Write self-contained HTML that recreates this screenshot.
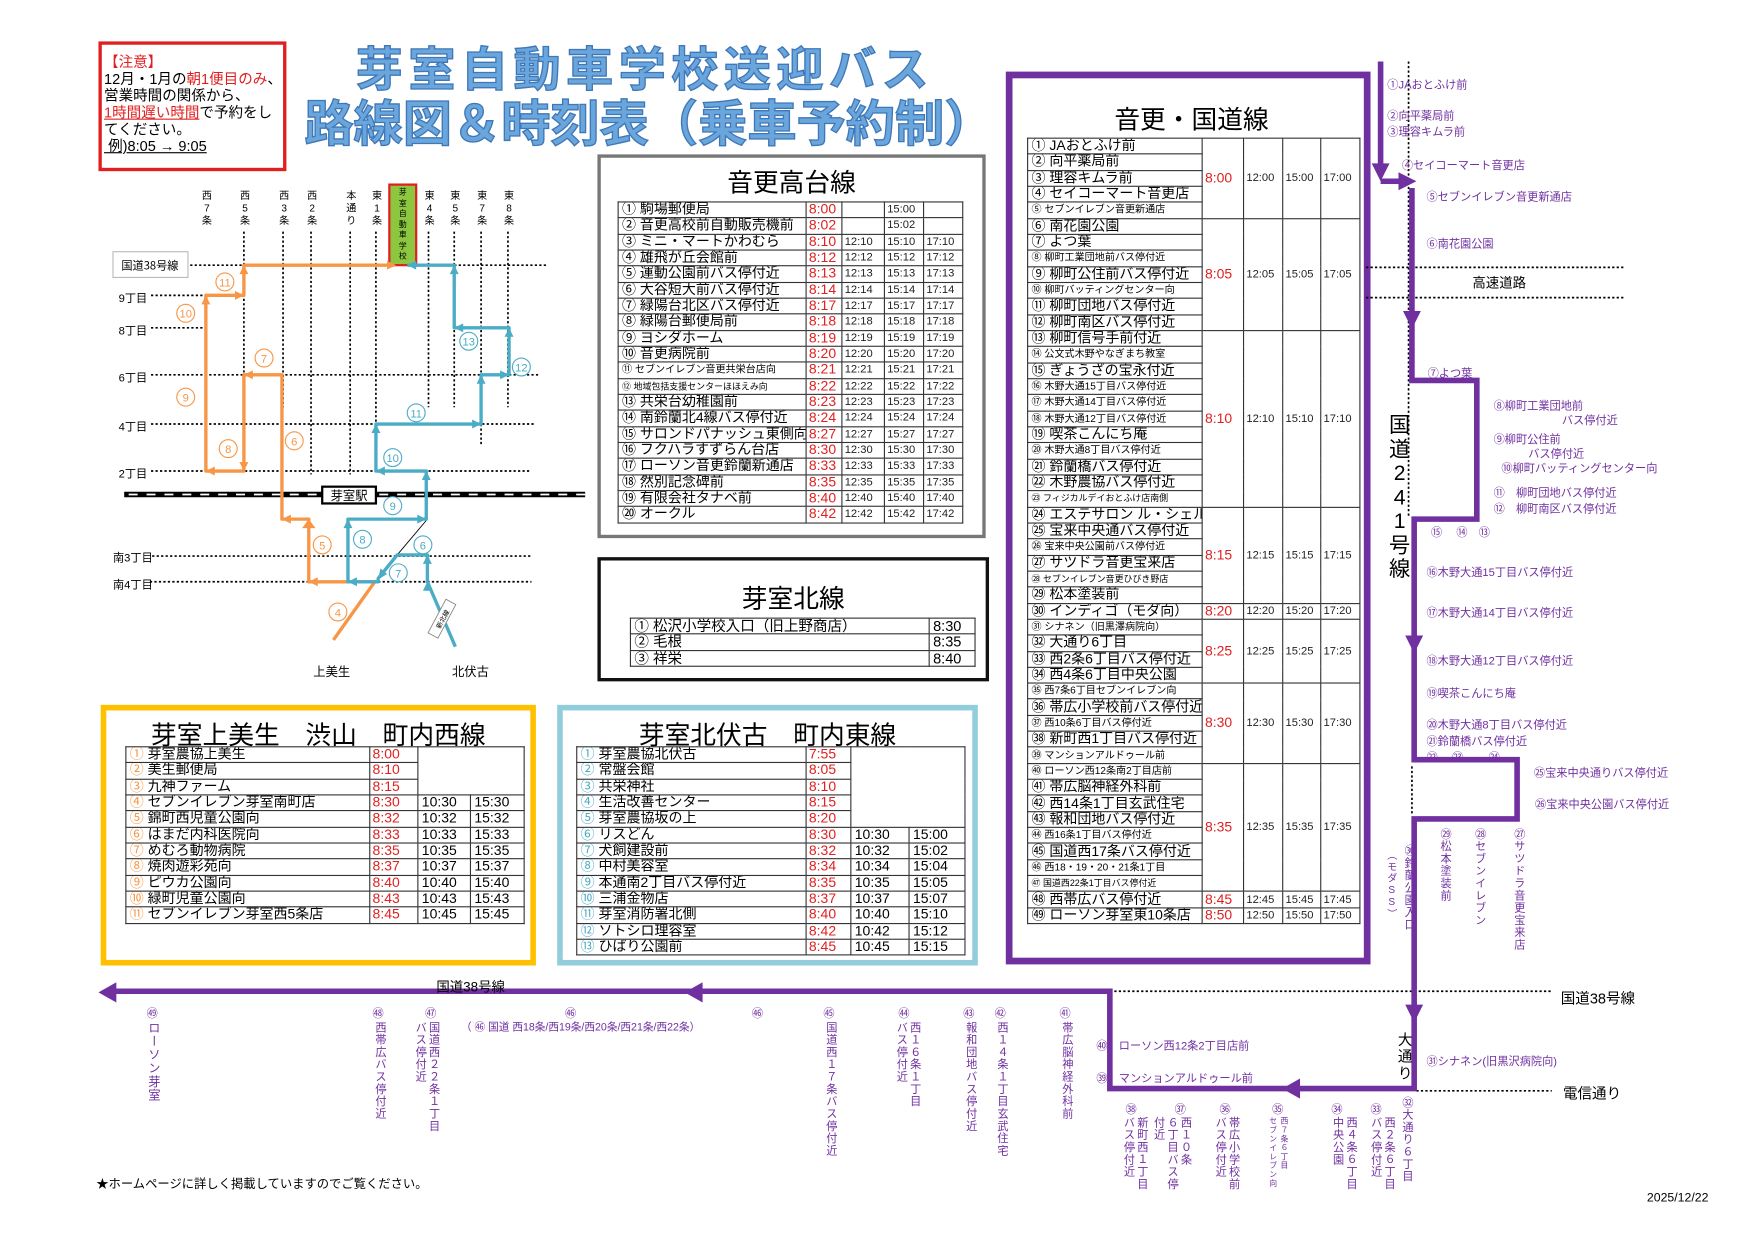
<!DOCTYPE html>
<html><head><meta charset="utf-8">
<style>
html,body{margin:0;padding:0;background:#fff;width:1754px;height:1240px;overflow:hidden}
#w{position:absolute;left:0;top:0;width:1560px;height:1103px;transform:scale(1.1188);transform-origin:0 0;font-family:"Liberation Sans","Noto Sans CJK JP",sans-serif;color:#000}
.a{position:absolute;white-space:nowrap}
table{border-collapse:collapse;table-layout:fixed;position:absolute}
td{border:1px solid #333;padding:0 0 0 3px;white-space:nowrap;overflow:hidden;line-height:13px;font-size:12.5px;height:13.33px}
td.t{color:#e02020;font-size:12.5px;padding:0 0 0 2px}
td.g{font-size:10px;padding:0 0 0 2px;color:#222}
.s{font-size:9px}
.p{color:#7030a0;font-size:10px}
.v{position:absolute;writing-mode:vertical-rl;text-orientation:upright;color:#7030a0;font-size:10px;line-height:12px;letter-spacing:1px}
.box{position:absolute;box-sizing:border-box}
.ttl{position:absolute;font-size:23px;font-weight:normal;text-align:center}
.or{color:#f79646}.bl{color:#4bacc6}
</style></head><body><div id="w">

<!-- notice -->
<div class="box" style="left:88px;top:37px;width:168px;height:116px;border:3px solid #e02020"></div>
<div class="a" style="left:93px;top:48px;font-size:13px;line-height:15px">
<span style="color:#e02020">【注意】</span><br>
12月・1月の<span style="color:#e02020">朝1便目のみ</span>、<br>
営業時間の関係から、<br>
<span style="color:#e02020;text-decoration:underline">1時間遅い時間</span>で予約をし<br>
てください。<br>
<span style="text-decoration:underline">&nbsp;例)8:05 → 9:05</span></div>

<!-- title -->
<div class="a" style="left:318px;top:38px;font-size:42px;font-weight:bold;letter-spacing:5px;color:#6aa6dc;-webkit-text-stroke:1.2px #3f78b8;line-height:50px">芽室自動車学校送迎バス</div>
<div class="a" style="left:272px;top:86px;font-size:44px;font-weight:bold;letter-spacing:0px;color:#6aa6dc;-webkit-text-stroke:1.2px #3f78b8;line-height:52px">路線図＆時刻表（乗車予約制）</div>

<!-- 音更高台線 -->
<div class="box" style="left:534px;top:138px;width:347px;height:343px;border:3px solid #777"></div>
<div class="ttl" style="left:534px;top:144px;width:347px">音更高台線</div>
<table style="left:552px;top:180px;width:308px">
<colgroup><col style="width:168px"><col style="width:32px"><col style="width:38px"><col style="width:35px"><col style="width:35px"></colgroup>
<tr><td>① 駒場郵便局</td><td class="t">8:00</td><td class="g"></td><td class="g">15:00</td><td class="g"></td></tr>
<tr><td>② 音更高校前自動販売機前</td><td class="t">8:02</td><td class="g"></td><td class="g">15:02</td><td class="g"></td></tr>
<tr><td>③ ミニ・マートかわむら</td><td class="t">8:10</td><td class="g">12:10</td><td class="g">15:10</td><td class="g">17:10</td></tr>
<tr><td>④ 雄飛が丘会館前</td><td class="t">8:12</td><td class="g">12:12</td><td class="g">15:12</td><td class="g">17:12</td></tr>
<tr><td>⑤ 運動公園前バス停付近</td><td class="t">8:13</td><td class="g">12:13</td><td class="g">15:13</td><td class="g">17:13</td></tr>
<tr><td>⑥ 大谷短大前バス停付近</td><td class="t">8:14</td><td class="g">12:14</td><td class="g">15:14</td><td class="g">17:14</td></tr>
<tr><td>⑦ 緑陽台北区バス停付近</td><td class="t">8:17</td><td class="g">12:17</td><td class="g">15:17</td><td class="g">17:17</td></tr>
<tr><td>⑧ 緑陽台郵便局前</td><td class="t">8:18</td><td class="g">12:18</td><td class="g">15:18</td><td class="g">17:18</td></tr>
<tr><td>⑨ ヨシダホーム</td><td class="t">8:19</td><td class="g">12:19</td><td class="g">15:19</td><td class="g">17:19</td></tr>
<tr><td>⑩ 音更病院前</td><td class="t">8:20</td><td class="g">12:20</td><td class="g">15:20</td><td class="g">17:20</td></tr>
<tr><td class="s">⑪ セブンイレブン音更共栄台店向</td><td class="t">8:21</td><td class="g">12:21</td><td class="g">15:21</td><td class="g">17:21</td></tr>
<tr><td style="font-size:8px">⑫ 地域包括支援センターほほえみ向</td><td class="t">8:22</td><td class="g">12:22</td><td class="g">15:22</td><td class="g">17:22</td></tr>
<tr><td>⑬ 共栄台幼稚園前</td><td class="t">8:23</td><td class="g">12:23</td><td class="g">15:23</td><td class="g">17:23</td></tr>
<tr><td>⑭ 南鈴蘭北4線バス停付近</td><td class="t">8:24</td><td class="g">12:24</td><td class="g">15:24</td><td class="g">17:24</td></tr>
<tr><td>⑮ サロンドパナッシュ東側向</td><td class="t">8:27</td><td class="g">12:27</td><td class="g">15:27</td><td class="g">17:27</td></tr>
<tr><td>⑯ フクハラすずらん台店</td><td class="t">8:30</td><td class="g">12:30</td><td class="g">15:30</td><td class="g">17:30</td></tr>
<tr><td>⑰ ローソン音更鈴蘭新通店</td><td class="t">8:33</td><td class="g">12:33</td><td class="g">15:33</td><td class="g">17:33</td></tr>
<tr><td>⑱ 然別記念碑前</td><td class="t">8:35</td><td class="g">12:35</td><td class="g">15:35</td><td class="g">17:35</td></tr>
<tr><td>⑲ 有限会社タナベ前</td><td class="t">8:40</td><td class="g">12:40</td><td class="g">15:40</td><td class="g">17:40</td></tr>
<tr><td>⑳ オークル</td><td class="t">8:42</td><td class="g">12:42</td><td class="g">15:42</td><td class="g">17:42</td></tr>
</table>

<!-- 芽室北線 -->
<div class="box" style="left:534px;top:498px;width:350px;height:111px;border:3px solid #111"></div>
<div class="ttl" style="left:534px;top:516px;width:350px">芽室北線</div>
<table style="left:563px;top:552px;width:308px">
<colgroup><col style="width:267px"><col style="width:41px"></colgroup>
<tr><td style="font-size:13px">① 松沢小学校入口（旧上野商店）</td><td style="font-size:13px">8:30</td></tr>
<tr><td style="font-size:13px">② 毛根</td><td style="font-size:13px">8:35</td></tr>
<tr><td style="font-size:13px">③ 祥栄</td><td style="font-size:13px">8:40</td></tr>
</table>

<!-- 音更・国道線 -->
<div class="box" style="left:899px;top:64px;width:326px;height:798px;border:6px solid #7030a0"></div>
<div class="ttl" style="left:905px;top:88px;width:320px">音更・国道線</div>
<table style="left:918px;top:123px;width:297px">
<colgroup><col style="width:156px"><col style="width:37px"><col style="width:35px"><col style="width:34px"><col style="width:35px"></colgroup>
<tr><td>① JAおとふけ前</td><td class="t" rowspan="5">8:00</td><td class="g" rowspan="5">12:00</td><td class="g" rowspan="5">15:00</td><td class="g" rowspan="5">17:00</td></tr>
<tr><td>② 向平薬局前</td></tr>
<tr><td>③ 理容キムラ前</td></tr>
<tr><td>④ セイコーマート音更店</td></tr>
<tr><td class="s">⑤ セブンイレブン音更新通店</td></tr>
<tr><td>⑥ 南花園公園</td><td class="t" rowspan="7">8:05</td><td class="g" rowspan="7">12:05</td><td class="g" rowspan="7">15:05</td><td class="g" rowspan="7">17:05</td></tr>
<tr><td>⑦ よつ葉</td></tr>
<tr><td class="s">⑧ 柳町工業団地前バス停付近</td></tr>
<tr><td>⑨ 柳町公住前バス停付近</td></tr>
<tr><td class="s">⑩ 柳町バッティングセンター向</td></tr>
<tr><td>⑪ 柳町団地バス停付近</td></tr>
<tr><td>⑫ 柳町南区バス停付近</td></tr>
<tr><td>⑬ 柳町信号手前付近</td><td class="t" rowspan="11">8:10</td><td class="g" rowspan="11">12:10</td><td class="g" rowspan="11">15:10</td><td class="g" rowspan="11">17:10</td></tr>
<tr><td class="s">⑭ 公文式木野やなぎまち教室</td></tr>
<tr><td>⑮ ぎょうざの宝永付近</td></tr>
<tr><td class="s">⑯ 木野大通15丁目バス停付近</td></tr>
<tr><td class="s">⑰ 木野大通14丁目バス停付近</td></tr>
<tr><td class="s">⑱ 木野大通12丁目バス停付近</td></tr>
<tr><td>⑲ 喫茶こんにち庵</td></tr>
<tr><td class="s">⑳ 木野大通8丁目バス停付近</td></tr>
<tr><td>㉑ 鈴蘭橋バス停付近</td></tr>
<tr><td>㉒ 木野農協バス停付近</td></tr>
<tr><td style="font-size:8px">㉓ フィジカルデイおとふけ店南側</td></tr>
<tr><td>㉔ エステサロン ル・シェル</td><td class="t" rowspan="6">8:15</td><td class="g" rowspan="6">12:15</td><td class="g" rowspan="6">15:15</td><td class="g" rowspan="6">17:15</td></tr>
<tr><td>㉕ 宝来中央通バス停付近</td></tr>
<tr><td class="s">㉖ 宝来中央公園前バス停付近</td></tr>
<tr><td>㉗ サツドラ音更宝来店</td></tr>
<tr><td style="font-size:8px">㉘ セブンイレブン音更ひびき野店</td></tr>
<tr><td>㉙ 松本塗装前</td></tr>
<tr><td>㉚ インディゴ（モダ向）</td><td class="t">8:20</td><td class="g">12:20</td><td class="g">15:20</td><td class="g">17:20</td></tr>
<tr><td class="s">㉛ シナネン（旧黒澤病院向）</td><td class="t" rowspan="4">8:25</td><td class="g" rowspan="4">12:25</td><td class="g" rowspan="4">15:25</td><td class="g" rowspan="4">17:25</td></tr>
<tr><td>㉜ 大通り6丁目</td></tr>
<tr><td>㉝ 西2条6丁目バス停付近</td></tr>
<tr><td>㉞ 西4条6丁目中央公園</td></tr>
<tr><td class="s">㉟ 西7条6丁目セブンイレブン向</td><td class="t" rowspan="5">8:30</td><td class="g" rowspan="5">12:30</td><td class="g" rowspan="5">15:30</td><td class="g" rowspan="5">17:30</td></tr>
<tr><td>㊱ 帯広小学校前バス停付近</td></tr>
<tr><td class="s">㊲ 西10条6丁目バス停付近</td></tr>
<tr><td>㊳ 新町西1丁目バス停付近</td></tr>
<tr><td class="s">㊴ マンションアルドゥール前</td></tr>
<tr><td class="s">㊵ ローソン西12条南2丁目店前</td><td class="t" rowspan="8">8:35</td><td class="g" rowspan="8">12:35</td><td class="g" rowspan="8">15:35</td><td class="g" rowspan="8">17:35</td></tr>
<tr><td>㊶ 帯広脳神経外科前</td></tr>
<tr><td>㊷ 西14条1丁目玄武住宅</td></tr>
<tr><td>㊸ 報和団地バス停付近</td></tr>
<tr><td class="s">㊹ 西16条1丁目バス停付近</td></tr>
<tr><td>㊺ 国道西17条バス停付近</td></tr>
<tr><td class="s">㊻ 西18・19・20・21条1丁目</td></tr>
<tr><td style="font-size:8px">㊼ 国道西22条1丁目バス停付近</td></tr>
<tr><td>㊽ 西帯広バス停付近</td><td class="t">8:45</td><td class="g">12:45</td><td class="g">15:45</td><td class="g">17:45</td></tr>
<tr><td>㊾ ローソン芽室東10条店</td><td class="t">8:50</td><td class="g">12:50</td><td class="g">15:50</td><td class="g">17:50</td></tr>
</table>

<!-- 上美生 -->
<div class="box" style="left:90px;top:630px;width:389px;height:233px;border:5px solid #ffc000"></div>
<div class="ttl" style="left:90px;top:638px;width:389px">芽室上美生　渋山　町内西線</div>
<table style="left:112px;top:667px;width:356px">
<colgroup><col style="width:218px"><col style="width:43px"><col style="width:47px"><col style="width:48px"></colgroup>
<tr><td><span class="or">①</span> 芽室農協上美生</td><td class="t">8:00</td><td colspan="2" rowspan="3" style="border-bottom:1px solid #333"></td></tr>
<tr><td><span class="or">②</span> 美生郵便局</td><td class="t">8:10</td></tr>
<tr><td><span class="or">③</span> 九神ファーム</td><td class="t">8:15</td></tr>
<tr><td><span class="or">④</span> セブンイレブン芽室南町店</td><td class="t">8:30</td><td>10:30</td><td>15:30</td></tr>
<tr><td><span class="or">⑤</span> 錦町西児童公園向</td><td class="t">8:32</td><td>10:32</td><td>15:32</td></tr>
<tr><td><span class="or">⑥</span> はまだ内科医院向</td><td class="t">8:33</td><td>10:33</td><td>15:33</td></tr>
<tr><td><span class="or">⑦</span> めむろ動物病院</td><td class="t">8:35</td><td>10:35</td><td>15:35</td></tr>
<tr><td><span class="or">⑧</span> 焼肉遊彩苑向</td><td class="t">8:37</td><td>10:37</td><td>15:37</td></tr>
<tr><td><span class="or">⑨</span> ピウカ公園向</td><td class="t">8:40</td><td>10:40</td><td>15:40</td></tr>
<tr><td><span class="or">⑩</span> 緑町児童公園向</td><td class="t">8:43</td><td>10:43</td><td>15:43</td></tr>
<tr><td><span class="or">⑪</span> セブンイレブン芽室西5条店</td><td class="t">8:45</td><td>10:45</td><td>15:45</td></tr>
</table>

<!-- 北伏古 -->
<div class="box" style="left:498px;top:630px;width:376px;height:233px;border:5px solid #92cddc"></div>
<div class="ttl" style="left:498px;top:638px;width:376px">芽室北伏古　町内東線</div>
<table style="left:515px;top:667px;width:347px">
<colgroup><col style="width:205px"><col style="width:40px"><col style="width:52px"><col style="width:50px"></colgroup>
<tr><td><span class="bl">①</span> 芽室農協北伏古</td><td class="t">7:55</td><td colspan="2" rowspan="5" style="border-bottom:1px solid #333"></td></tr>
<tr><td><span class="bl">②</span> 常盤会館</td><td class="t">8:05</td></tr>
<tr><td><span class="bl">③</span> 共栄神社</td><td class="t">8:10</td></tr>
<tr><td><span class="bl">④</span> 生活改善センター</td><td class="t">8:15</td></tr>
<tr><td><span class="bl">⑤</span> 芽室農協坂の上</td><td class="t">8:20</td></tr>
<tr><td><span class="bl">⑥</span> リスどん</td><td class="t">8:30</td><td>10:30</td><td>15:00</td></tr>
<tr><td><span class="bl">⑦</span> 犬飼建設前</td><td class="t">8:32</td><td>10:32</td><td>15:02</td></tr>
<tr><td><span class="bl">⑧</span> 中村美容室</td><td class="t">8:34</td><td>10:34</td><td>15:04</td></tr>
<tr><td><span class="bl">⑨</span> 本通南2丁目バス停付近</td><td class="t">8:35</td><td>10:35</td><td>15:05</td></tr>
<tr><td><span class="bl">⑩</span> 三浦金物店</td><td class="t">8:37</td><td>10:37</td><td>15:07</td></tr>
<tr><td><span class="bl">⑪</span> 芽室消防署北側</td><td class="t">8:40</td><td>10:40</td><td>15:10</td></tr>
<tr><td><span class="bl">⑫</span> ソトシロ理容室</td><td class="t">8:42</td><td>10:42</td><td>15:12</td></tr>
<tr><td><span class="bl">⑬</span> ひばり公園前</td><td class="t">8:45</td><td>10:45</td><td>15:15</td></tr>
</table>

<!-- map + routes svg -->
<svg class="a" style="left:0;top:0" width="1560" height="1103" viewBox="0 0 1560 1103">
<g stroke="#000" stroke-width="1.5" stroke-dasharray="2,2" fill="none">
<line x1="218" y1="207" x2="218" y2="364"/><line x1="253" y1="207" x2="253" y2="364"/>
<line x1="278" y1="207" x2="278" y2="424"/><line x1="313" y1="207" x2="313" y2="424"/>
<line x1="336" y1="207" x2="336" y2="421"/><line x1="383" y1="207" x2="383" y2="364"/>
<line x1="406" y1="207" x2="406" y2="364"/><line x1="430" y1="207" x2="430" y2="397"/>
<line x1="454" y1="207" x2="454" y2="364"/>
<line x1="170" y1="237" x2="489" y2="237"/>
<line x1="135" y1="264" x2="181" y2="264"/><line x1="135" y1="293" x2="181" y2="293"/>
<line x1="135" y1="335" x2="483" y2="335"/><line x1="135" y1="379" x2="479" y2="379"/>
<line x1="135" y1="421" x2="473" y2="421"/><line x1="136" y1="497" x2="474" y2="497"/>
<line x1="134" y1="520" x2="475" y2="520"/>
<line x1="1221" y1="239" x2="1451" y2="239"/><line x1="1221" y1="266" x2="1451" y2="266"/>
<line x1="996" y1="886" x2="1387" y2="886"/><line x1="1266" y1="975" x2="1387" y2="975"/>
<line x1="1259" y1="55" x2="1259" y2="462"/><line x1="1262" y1="685" x2="1262" y2="727"/>
</g>
<line x1="382" y1="464" x2="355" y2="496" stroke="#000" stroke-width="0.8"/>
<line x1="111" y1="442" x2="523" y2="442" stroke="#000" stroke-width="5"/>
<line x1="115" y1="442" x2="523" y2="442" stroke="#fff" stroke-width="1.6" stroke-dasharray="8,8"/>
<rect x="288" y="435" width="48" height="15" fill="#fff" stroke="#000" stroke-width="2"/>
<text x="312" y="447" font-size="11" text-anchor="middle" font-family="Noto Sans CJK JP">芽室駅</text>
<rect x="101" y="225" width="67" height="23" fill="#fff" stroke="#bbb" stroke-width="1"/>
<text x="134" y="241" font-size="10" text-anchor="middle" font-family="Noto Sans CJK JP">国道38号線</text>
<rect x="348" y="165" width="24" height="72" fill="#8dc63f" stroke="#e02020" stroke-width="2"/>
<g stroke="#f79646" stroke-width="3" fill="none" stroke-linejoin="round">
<path d="M298,572 L335,520 H276 V464 H252 V335 H218 V421 H184 V264 H218 V237 H352"/>
</g>
<g fill="#f79646">
<polygon points="276,520 284,516 284,524"/><polygon points="276,464 270,472 282,472"/>
<polygon points="252,464 260,460 260,468"/><polygon points="218,335 226,331 226,339"/>
<polygon points="218,421 214,413 222,413"/><polygon points="184,421 192,417 192,425"/>
<polygon points="184,264 180,272 188,272"/><polygon points="218,264 210,260 210,268"/>
<polygon points="218,237 214,245 222,245"/><polygon points="354,237 346,233 346,241"/>
</g>
<g stroke="#4bacc6" stroke-width="3" fill="none" stroke-linejoin="round">
<path d="M407,578 L382,520 V496 H355 L338,517 V520 H311 V464 H381 V421 H336 V379 H430 V335 H455 V293 H406 V237 H364"/>
</g>
<g fill="#4bacc6">
<polygon points="382,496 378,504 386,504"/><polygon points="338,518 340,508 346,513"/>
<polygon points="311,520 319,516 319,524"/><polygon points="311,464 307,472 315,472"/>
<polygon points="381,464 373,460 373,468"/><polygon points="381,421 377,429 385,429"/>
<polygon points="336,421 344,417 344,425"/><polygon points="336,379 332,387 340,387"/>
<polygon points="430,379 422,375 422,383"/><polygon points="430,335 426,343 434,343"/>
<polygon points="455,335 447,331 447,339"/><polygon points="455,293 451,301 459,301"/>
<polygon points="406,293 414,289 414,297"/><polygon points="406,237 402,245 410,245"/>
<polygon points="364,237 372,233 372,241"/><polygon points="382,520 378,528 386,528"/>
</g>
<g transform="rotate(-62 395 553)"><rect x="378" y="548" width="34" height="10" fill="#fff" stroke="#888" stroke-width="0.8"/><text x="395" y="556" font-size="6" text-anchor="middle" font-family="Noto Sans CJK JP">新北線</text></g>
<g fill="#fff" stroke-width="1" font-family="Liberation Sans" font-size="10" text-anchor="middle">
<g stroke="#f79646"><circle cx="201" cy="252" r="8"/><circle cx="166" cy="280" r="8"/><circle cx="166" cy="355" r="8"/><circle cx="236" cy="320" r="8"/><circle cx="204" cy="401" r="8"/><circle cx="263" cy="394" r="8"/><circle cx="288" cy="487" r="8"/><circle cx="302" cy="547" r="8"/></g>
<g fill="#f79646"><text x="201" y="256">11</text><text x="166" y="284">10</text><text x="166" y="359">9</text><text x="236" y="324">7</text><text x="204" y="405">8</text><text x="263" y="398">6</text><text x="288" y="491">5</text><text x="302" y="551">4</text></g>
<g stroke="#4bacc6"><circle cx="419" cy="305" r="8"/><circle cx="466" cy="328" r="8"/><circle cx="372" cy="369" r="8"/><circle cx="351" cy="409" r="8"/><circle cx="351" cy="452" r="8"/><circle cx="324" cy="482" r="8"/><circle cx="378" cy="487" r="8"/><circle cx="356" cy="512" r="8"/></g>
<g fill="#4bacc6"><text x="419" y="309">13</text><text x="466" y="332">12</text><text x="372" y="373">11</text><text x="351" y="413">10</text><text x="351" y="456">9</text><text x="324" y="486">8</text><text x="378" y="491">6</text><text x="356" y="516">7</text></g>
</g>
<g stroke="#7030a0" stroke-width="5" fill="none">
<path d="M1234,55 V150"/><path d="M1234,162 H1252"/>
<path d="M1262,168 V340 H1320 V464 H1264 V679 H1356 V732 H1264 V973 H992 V886 H100"/>
</g>
<g fill="#7030a0">
<polygon points="1226,146 1242,146 1234,162"/><polygon points="1250,154 1250,170 1266,162"/>
<polygon points="1254,278 1270,278 1262,294"/><polygon points="1256,568 1272,568 1264,584"/>
<polygon points="1256,898 1272,898 1264,914"/><polygon points="1146,973 1162,964 1162,982"/>
<polygon points="612,887 628,878 628,896"/><polygon points="88,887 104,878 104,896"/>
</g>
</svg>

<div class="a" style="left:179px;top:170px;font-size:9px;line-height:11px;text-align:center;width:12px">西<br>7<br>条</div>
<div class="a" style="left:213px;top:170px;font-size:9px;line-height:11px;text-align:center;width:12px">西<br>5<br>条</div>
<div class="a" style="left:248px;top:170px;font-size:9px;line-height:11px;text-align:center;width:12px">西<br>3<br>条</div>
<div class="a" style="left:273px;top:170px;font-size:9px;line-height:11px;text-align:center;width:12px">西<br>2<br>条</div>
<div class="a" style="left:308px;top:170px;font-size:9px;line-height:11px;text-align:center;width:12px">本<br>通<br>り</div>
<div class="a" style="left:331px;top:170px;font-size:9px;line-height:11px;text-align:center;width:12px">東<br>1<br>条</div>
<div class="a" style="left:378px;top:170px;font-size:9px;line-height:11px;text-align:center;width:12px">東<br>4<br>条</div>
<div class="a" style="left:401px;top:170px;font-size:9px;line-height:11px;text-align:center;width:12px">東<br>5<br>条</div>
<div class="a" style="left:425px;top:170px;font-size:9px;line-height:11px;text-align:center;width:12px">東<br>7<br>条</div>
<div class="a" style="left:449px;top:170px;font-size:9px;line-height:11px;text-align:center;width:12px">東<br>8<br>条</div>
<div class="a" style="left:355px;top:168px;font-size:7px;line-height:9.5px;width:10px;text-align:center">芽<br>室<br>自<br>動<br>車<br>学<br>校</div>
<div class="a" style="left:106px;top:258px;font-size:10px">9丁目</div>
<div class="a" style="left:106px;top:287px;font-size:10px">8丁目</div>
<div class="a" style="left:106px;top:329px;font-size:10px">6丁目</div>
<div class="a" style="left:106px;top:373px;font-size:10px">4丁目</div>
<div class="a" style="left:106px;top:415px;font-size:10px">2丁目</div>
<div class="a" style="left:101px;top:490px;font-size:10px">南3丁目</div>
<div class="a" style="left:101px;top:514px;font-size:10px">南4丁目</div>
<div class="a" style="left:280px;top:592px;font-size:11px">上美生</div>
<div class="a" style="left:404px;top:592px;font-size:11px">北伏古</div>

<div class="a p" style="left:1240px;top:67px">①JAおとふけ前</div>
<div class="a p" style="left:1240px;top:95px">②向平薬局前</div>
<div class="a p" style="left:1240px;top:109px">③理容キムラ前</div>
<div class="a p" style="left:1253px;top:139px">④セイコーマート音更店</div>
<div class="a p" style="left:1275px;top:167px">⑤セブンイレブン音更新通店</div>
<div class="a p" style="left:1275px;top:209px">⑥南花園公園</div>
<div class="a" style="left:1316px;top:244px;font-size:12px">高速道路</div>
<div class="a p" style="left:1276px;top:325px">⑦よつ葉</div>
<div class="a p" style="left:1335px;top:354px">⑧柳町工業団地前</div>
<div class="a p" style="left:1396px;top:367px">バス停付近</div>
<div class="a p" style="left:1335px;top:384px">⑨柳町公住前</div>
<div class="a p" style="left:1366px;top:397px">バス停付近</div>
<div class="a p" style="left:1342px;top:410px">⑩柳町バッティングセンター向</div>
<div class="a p" style="left:1335px;top:432px">⑪　柳町団地バス停付近</div>
<div class="a p" style="left:1335px;top:446px">⑫　柳町南区バス停付近</div>
<div class="a p" style="left:1279px;top:467px">⑮　 ⑭　⑬</div>
<div class="a p" style="left:1275px;top:503px">⑯木野大通15丁目バス停付近</div>
<div class="a p" style="left:1275px;top:539px">⑰木野大通14丁目バス停付近</div>
<div class="a p" style="left:1275px;top:582px">⑱木野大通12丁目バス停付近</div>
<div class="a p" style="left:1275px;top:611px">⑲喫茶こんにち庵</div>
<div class="a p" style="left:1275px;top:639px">⑳木野大通8丁目バス停付近</div>
<div class="a p" style="left:1275px;top:654px">㉑鈴蘭橋バス停付近</div>
<div class="a p" style="left:1275px;top:668px">㉒　 ㉓　　 ㉔</div>
<div class="a p" style="left:1371px;top:682px">㉕宝来中央通りバス停付近</div>
<div class="a p" style="left:1372px;top:710px">㉖宝来中央公園バス停付近</div>
<div class="v" style="left:1250px;top:755px;width:14px">㉚鈴蘭公園入口</div>
<div class="v" style="left:1238px;top:760px;width:12px;font-size:9px">（モダSS）</div>
<div class="v" style="left:1284px;top:740px">㉙松本塗装前</div>
<div class="v" style="left:1315px;top:740px">㉘セブンイレブン</div>
<div class="v" style="left:1350px;top:740px">㉗サツドラ音更宝来店</div>
<div class="a" style="left:1240px;top:370px;font-size:19px;line-height:21.5px;width:22px;text-align:center">国<br>道<br>2<br>4<br>1<br>号<br>線</div>
<div class="a" style="left:1248px;top:922px;font-size:13px;line-height:15px;width:16px;text-align:center">大<br>通<br>り</div>
<div class="a p" style="left:1275px;top:940px">㉛シナネン(旧黒沢病院向)</div>
<div class="a" style="left:1395px;top:882px;font-size:13px">国道38号線</div>
<div class="a" style="left:1397px;top:967px;font-size:13px">電信通り</div>
<div class="a p" style="left:980px;top:926px">㊵　ローソン西12条2丁目店前</div>
<div class="a p" style="left:980px;top:955px">㊴　マンションアルドゥール前</div>
<div class="a" style="left:390px;top:873px;font-size:12px">国道38号線</div>

<div class="v" style="left:1250px;top:980px">㉜大通り６丁目</div>
<div class="v" style="left:1220px;top:998px;width:26px">西２条６丁目<br>バス停付近</div>
<div class="a p" style="left:1225px;top:983px">㉝</div>
<div class="a p" style="left:1190px;top:983px">㉞</div>
<div class="v" style="left:1186px;top:998px;width:26px">西４条６丁目<br>中央公園</div>
<div class="a p" style="left:1137px;top:983px">㉟</div>
<div class="v" style="left:1130px;top:998px;width:22px;font-size:7px;line-height:10px">西７条６丁目<br>セブンイレブン向</div>
<div class="a p" style="left:1090px;top:983px">㊱</div>
<div class="v" style="left:1081px;top:998px;width:26px">帯広小学校前<br>バス停付近</div>
<div class="a p" style="left:1050px;top:983px">㊲</div>
<div class="v" style="left:1026px;top:998px;width:38px">西１０条<br>６丁目バス停<br>付近</div>
<div class="a p" style="left:1006px;top:983px">㊳</div>
<div class="v" style="left:999px;top:998px;width:26px">新町西１丁目<br>バス停付近</div>
<div class="a p" style="left:947px;top:897px">㊶</div>
<div class="v" style="left:946px;top:913px">帯広脳神経外科前</div>
<div class="a p" style="left:889px;top:897px">㊷</div>
<div class="v" style="left:888px;top:913px">西１４条１丁目玄武住宅</div>
<div class="a p" style="left:861px;top:897px">㊸</div>
<div class="v" style="left:860px;top:913px">報和団地バス停付近</div>
<div class="a p" style="left:803px;top:897px">㊹</div>
<div class="v" style="left:796px;top:913px;width:26px">西１６条１丁目<br>バス停付近</div>
<div class="a p" style="left:736px;top:897px">㊺</div>
<div class="v" style="left:735px;top:913px">国道西１７条バス停付近</div>
<div class="a p" style="left:672px;top:897px">㊻</div>
<div class="a p" style="left:505px;top:897px">㊻</div>
<div class="a" style="left:412px;top:910px;font-size:9.5px;color:#7030a0">（ ㊻ 国道 西18条/西19条/西20条/西21条/西22条）</div>
<div class="a p" style="left:380px;top:897px">㊼</div>
<div class="v" style="left:366px;top:913px;width:26px">国道西２２条１丁目<br>バス停付近</div>
<div class="a p" style="left:333px;top:897px">㊽</div>
<div class="v" style="left:332px;top:913px">西帯広バス停付近</div>
<div class="a p" style="left:131px;top:897px">㊾</div>
<div class="v" style="left:130px;top:913px;font-size:11px;line-height:13px">ローソン芽室</div>

<div class="a" style="left:86px;top:1050px;font-size:11px">★ホームページに詳しく掲載していますのでご覧ください。</div>
<div class="a" style="left:1472px;top:1065px;font-size:11px">2025/12/22</div>
</div></body></html>
